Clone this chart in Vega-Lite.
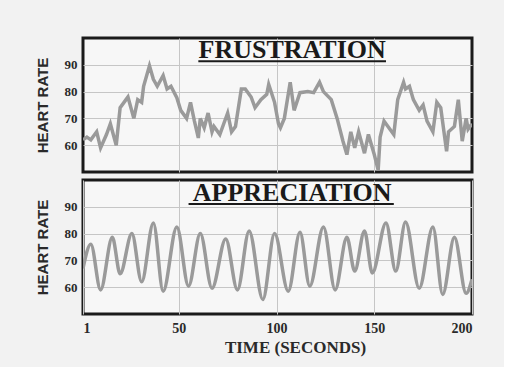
{
  "$schema": "https://vega.github.io/schema/vega-lite/v6.json",
  "background": "#f2f2f2",
  "padding": {"left": 33, "top": 35, "right": 30, "bottom": 10},
  "spacing": 4,
  "datasets": {
    "frustration": [
      {"t": 1, "hr": 62}, {"t": 3, "hr": 63}, {"t": 5, "hr": 62}, {"t": 8, "hr": 65}, {"t": 10, "hr": 59},
      {"t": 13, "hr": 64}, {"t": 15, "hr": 68}, {"t": 18, "hr": 60}, {"t": 20, "hr": 74}, {"t": 23, "hr": 77},
      {"t": 24, "hr": 78}, {"t": 27, "hr": 70}, {"t": 29, "hr": 77}, {"t": 31, "hr": 76}, {"t": 32, "hr": 82},
      {"t": 35, "hr": 89.6}, {"t": 37, "hr": 84.6}, {"t": 39, "hr": 82}, {"t": 42, "hr": 86}, {"t": 44, "hr": 81},
      {"t": 46, "hr": 82}, {"t": 49, "hr": 77.7}, {"t": 51, "hr": 73}, {"t": 54, "hr": 70}, {"t": 56, "hr": 76},
      {"t": 58, "hr": 69}, {"t": 60, "hr": 62.7}, {"t": 61, "hr": 70}, {"t": 63, "hr": 66.5}, {"t": 65, "hr": 72},
      {"t": 67, "hr": 65}, {"t": 68, "hr": 67}, {"t": 71, "hr": 64}, {"t": 73, "hr": 68}, {"t": 75, "hr": 72},
      {"t": 77, "hr": 65}, {"t": 79, "hr": 67}, {"t": 82, "hr": 81}, {"t": 84, "hr": 81}, {"t": 87, "hr": 78},
      {"t": 89, "hr": 74}, {"t": 92, "hr": 77}, {"t": 95, "hr": 79}, {"t": 96, "hr": 82.7}, {"t": 99, "hr": 76},
      {"t": 101, "hr": 68}, {"t": 102, "hr": 66.5}, {"t": 104, "hr": 70}, {"t": 107, "hr": 83.5}, {"t": 109, "hr": 73},
      {"t": 112, "hr": 79.6}, {"t": 116, "hr": 80}, {"t": 119, "hr": 79.6}, {"t": 122, "hr": 83.5}, {"t": 124, "hr": 80},
      {"t": 128, "hr": 77}, {"t": 131, "hr": 70}, {"t": 134, "hr": 61.5}, {"t": 136, "hr": 56.5}, {"t": 138, "hr": 65},
      {"t": 140, "hr": 59}, {"t": 142, "hr": 65}, {"t": 145, "hr": 57}, {"t": 147, "hr": 64}, {"t": 150, "hr": 56.5},
      {"t": 152, "hr": 50.7}, {"t": 153, "hr": 63}, {"t": 155, "hr": 69}, {"t": 157, "hr": 67}, {"t": 160, "hr": 64},
      {"t": 162, "hr": 77}, {"t": 165, "hr": 83.5}, {"t": 166, "hr": 81}, {"t": 168, "hr": 82}, {"t": 170, "hr": 77},
      {"t": 173, "hr": 73}, {"t": 175, "hr": 75}, {"t": 177, "hr": 69}, {"t": 180, "hr": 65}, {"t": 182, "hr": 76},
      {"t": 184, "hr": 74}, {"t": 187, "hr": 57.7}, {"t": 188, "hr": 65}, {"t": 191, "hr": 67}, {"t": 193, "hr": 77},
      {"t": 195, "hr": 61.5}, {"t": 197, "hr": 70}, {"t": 198, "hr": 66}, {"t": 200, "hr": 68}
    ],
    "appreciation": [
      {"t": 1, "hr": 67}, {"t": 5, "hr": 76}, {"t": 10, "hr": 59}, {"t": 16, "hr": 78.6}, {"t": 20, "hr": 65},
      {"t": 26, "hr": 80}, {"t": 31, "hr": 62}, {"t": 37, "hr": 84}, {"t": 42, "hr": 58.5}, {"t": 49, "hr": 82.5},
      {"t": 55, "hr": 60.4}, {"t": 61, "hr": 80}, {"t": 67, "hr": 59.6}, {"t": 74, "hr": 78}, {"t": 80, "hr": 59},
      {"t": 86, "hr": 81}, {"t": 93, "hr": 55.4}, {"t": 99, "hr": 80}, {"t": 106, "hr": 58.5}, {"t": 112, "hr": 80.5},
      {"t": 117, "hr": 60.4}, {"t": 124, "hr": 82.5}, {"t": 130, "hr": 59}, {"t": 136, "hr": 78.6}, {"t": 140, "hr": 66},
      {"t": 145, "hr": 81}, {"t": 149, "hr": 65.3}, {"t": 156, "hr": 84}, {"t": 161, "hr": 66}, {"t": 166, "hr": 84.3},
      {"t": 173, "hr": 59.6}, {"t": 180, "hr": 82.5}, {"t": 185, "hr": 57.3}, {"t": 191, "hr": 78.6}, {"t": 197, "hr": 57.7},
      {"t": 200, "hr": 63}
    ]
  },
  "vconcat": [
    {
      "width": 389,
      "height": 134,
      "layer": [
        {
          "data": {"name": "frustration"},
          "mark": {"type": "line", "color": "#9a9a9a", "strokeWidth": 3.5, "clip": true},
          "encoding": {
            "x": {"field": "t", "type": "quantitative", "scale": {"domain": [1, 200], "nice": false},
                  "axis": {"values": [50, 100, 150], "labels": false, "ticks": false, "domain": false, "title": null, "labelPadding": 0}},
            "y": {"field": "hr", "type": "quantitative", "scale": {"domain": [50, 100], "nice": false, "zero": false},
                  "axis": {"values": [60, 70, 80, 90], "title": "HEART RATE"}}
          }
        },
        {
          "data": {"values": [{"label": "FRUSTRATION"}]},
          "mark": {"type": "text", "font": "Liberation Serif", "fontWeight": "bold", "fontSize": 26, "color": "#1a1a1a", "baseline": "middle", "align": "center"},
          "encoding": {
            "x": {"datum": 108, "type": "quantitative"},
            "y": {"datum": 95.5, "type": "quantitative"},
            "text": {"field": "label"}
          }
        },
        {
          "data": {"values": [{"label": "underline"}]},
          "mark": {"type": "rule", "color": "#1a1a1a", "strokeWidth": 2},
          "encoding": {
            "x": {"datum": 60, "type": "quantitative"},
            "x2": {"datum": 156},
            "y": {"datum": 91.3, "type": "quantitative"}
          }
        }
      ]
    },
    {
      "width": 389,
      "height": 134,
      "layer": [
        {
          "data": {"name": "appreciation"},
          "mark": {"type": "line", "color": "#9a9a9a", "strokeWidth": 3.5, "interpolate": "monotone", "clip": true},
          "encoding": {
            "x": {"field": "t", "type": "quantitative", "scale": {"domain": [1, 200], "nice": false},
                  "axis": {"values": [1, 50, 100, 150, 200], "title": "TIME (SECONDS)", "titleX": 212}},
            "y": {"field": "hr", "type": "quantitative", "scale": {"domain": [50, 100], "nice": false, "zero": false},
                  "axis": {"values": [60, 70, 80, 90], "title": "HEART RATE"}}
          }
        },
        {
          "data": {"values": [{"label": "APPRECIATION"}]},
          "mark": {"type": "text", "font": "Liberation Serif", "fontWeight": "bold", "fontSize": 26, "color": "#1a1a1a", "baseline": "middle", "align": "center"},
          "encoding": {
            "x": {"datum": 108, "type": "quantitative"},
            "y": {"datum": 95, "type": "quantitative"},
            "text": {"field": "label"}
          }
        },
        {
          "data": {"values": [{"label": "underline"}]},
          "mark": {"type": "rule", "color": "#1a1a1a", "strokeWidth": 2},
          "encoding": {
            "x": {"datum": 55, "type": "quantitative"},
            "x2": {"datum": 160},
            "y": {"datum": 91, "type": "quantitative"}
          }
        }
      ]
    }
  ],
  "config": {
    "view": {"stroke": "#1a1a1a", "strokeWidth": 3, "fill": "#f7f7f7"},
    "axis": {
      "grid": true,
      "gridColor": "#c6c6c6",
      "gridWidth": 1,
      "ticks": false,
      "domain": false,
      "labelFont": "Liberation Serif",
      "labelFontWeight": "bold",
      "labelColor": "#2a2a2a",
      "titleColor": "#2a2a2a"
    },
    "axisY": {
      "labelFontSize": 13,
      "labelPadding": 6,
      "titleFont": "Liberation Sans",
      "titleFontWeight": "bold",
      "titleFontSize": 15,
      "titlePadding": 14
    },
    "axisX": {
      "labelFontSize": 14,
      "labelPadding": 7,
      "titleFont": "Liberation Serif",
      "titleFontWeight": "bold",
      "titleFontSize": 17,
      "titlePadding": 4
    }
  }
}
